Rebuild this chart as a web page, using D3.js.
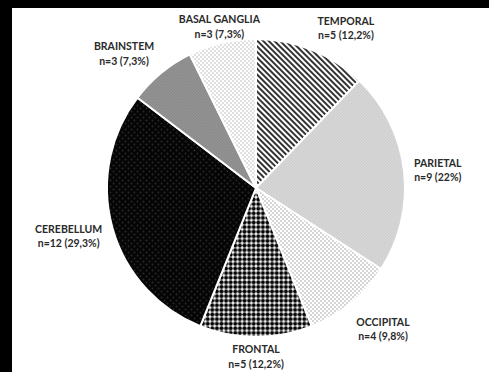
<!DOCTYPE html>
<html>
<head>
<meta charset="utf-8">
<script src="https://cdn.jsdelivr.net/npm/d3@7"></script>
<style>
  html, body { margin: 0; padding: 0; background: #000; }
  svg { display: block; }
</style>
</head>
<body>
<svg id="chart" width="489" height="372"></svg>
<script>
// Lesion location counts, clockwise from 12 o'clock
const categories = ["TEMPORAL", "PARIETAL", "OCCIPITAL", "FRONTAL", "CEREBELLUM", "BRAINSTEM", "BASAL GANGLIA"];
const counts = [5, 9, 4, 5, 12, 3, 3];
const percentLabels = ["12,2%", "22%", "9,8%", "12,2%", "29,3%", "7,3%", "7,3%"];

const W = 489, H = 372;
const cx = 256, cy = 188, R = 149;

const svg = d3.select("#chart");

// white panel on black frame
svg.append("rect").attr("x", 0).attr("y", 0).attr("width", W).attr("height", H).attr("fill", "#000");
svg.append("rect").attr("x", 12).attr("y", 8).attr("width", W - 12).attr("height", H - 8).attr("fill", "#fff");

const defs = svg.append("defs");

// diagonal stripes
function stripes(id, color, size, sw) {
  const p = defs.append("pattern").attr("id", id)
    .attr("patternUnits", "userSpaceOnUse")
    .attr("width", size).attr("height", size)
    .attr("patternTransform", "rotate(-45)");
  p.append("rect").attr("width", size).attr("height", size).attr("fill", "#fff");
  p.append("rect").attr("x", 0).attr("y", 0).attr("width", sw).attr("height", size).attr("fill", color);
}
// staggered dot texture
function dots(id, bg, fg, size, rad) {
  const p = defs.append("pattern").attr("id", id)
    .attr("patternUnits", "userSpaceOnUse")
    .attr("width", size).attr("height", size);
  p.append("rect").attr("width", size).attr("height", size).attr("fill", bg);
  p.append("circle").attr("cx", size / 4).attr("cy", size / 4).attr("r", rad).attr("fill", fg);
  p.append("circle").attr("cx", size * 3 / 4).attr("cy", size * 3 / 4).attr("r", rad).attr("fill", fg);
}
// square grid of dots
function grid(id, bg, fg, size, rad) {
  const p = defs.append("pattern").attr("id", id)
    .attr("patternUnits", "userSpaceOnUse")
    .attr("width", size).attr("height", size);
  p.append("rect").attr("width", size).attr("height", size).attr("fill", bg);
  p.append("circle").attr("cx", size / 2).attr("cy", size / 2).attr("r", rad).attr("fill", fg);
}

stripes("pTemporal", "#333", 4, 2);
dots("pParietal", "#d8d8d8", "#cacaca", 3, 0.7);
dots("pOccipital", "#ffffff", "#c2c2c2", 4, 0.9);
grid("pFrontal", "#ffffff", "#050505", 4.6, 2.05);
dots("pCerebellum", "#050505", "#2a2a2a", 6, 0.9);
dots("pBrainstem", "#8a8a8a", "#9a9a9a", 3, 0.7);
dots("pBasal", "#ffffff", "#d2d2d2", 4, 0.9);

const fills = ["pTemporal", "pParietal", "pOccipital", "pFrontal", "pCerebellum", "pBrainstem", "pBasal"];

const data = categories.map((c, i) => ({ name: c, value: counts[i], pct: percentLabels[i], fill: fills[i] }));

const pie = d3.pie().value(d => d.value).sort(null);
const arc = d3.arc().innerRadius(0).outerRadius(R);
const arcs = pie(data);

const g = svg.append("g").attr("transform", `translate(${cx},${cy})`);

g.selectAll("path.slice")
  .data(arcs)
  .join("path")
  .attr("class", "slice")
  .attr("d", arc)
  .attr("fill", d => `url(#${d.data.fill})`)
  .attr("stroke", "#fff")
  .attr("stroke-width", 2)
  .attr("stroke-linejoin", "round");

// label placement: outside each slice along its mid-angle, with small nudges
const labelArc = d3.arc().innerRadius(R + 38).outerRadius(R + 38);
const nudge = {
  "TEMPORAL": [20, 14],
  "PARIETAL": [-4, 4],
  "OCCIPITAL": [8, -3],
  "FRONTAL": [0, -18],
  "CEREBELLUM": [-7, -1],
  "BRAINSTEM": [-13, 10],
  "BASAL GANGLIA": [6, 21]
};

const labels = g.selectAll("text.lbl")
  .data(arcs)
  .join("text")
  .attr("class", "lbl")
  .attr("text-anchor", "middle")
  .attr("font-family", "Lato, 'Open Sans', sans-serif")
  .attr("font-weight", 700)
  .attr("font-size", 10.5)
  .attr("fill", "#2a2a2a")
  .attr("transform", d => {
    const [x, y] = labelArc.centroid(d);
    const [dx, dy] = nudge[d.data.name];
    return `translate(${x + dx},${y + dy})`;
  });

labels.append("tspan")
  .attr("x", 0).attr("y", -7.2).attr("dy", "0.35em")
  .text(d => d.data.name);
labels.append("tspan")
  .attr("x", 0).attr("y", 7.2).attr("dy", "0.35em")
  .text(d => `n=${d.data.value} (${d.data.pct})`);
</script>
</body>
</html>
